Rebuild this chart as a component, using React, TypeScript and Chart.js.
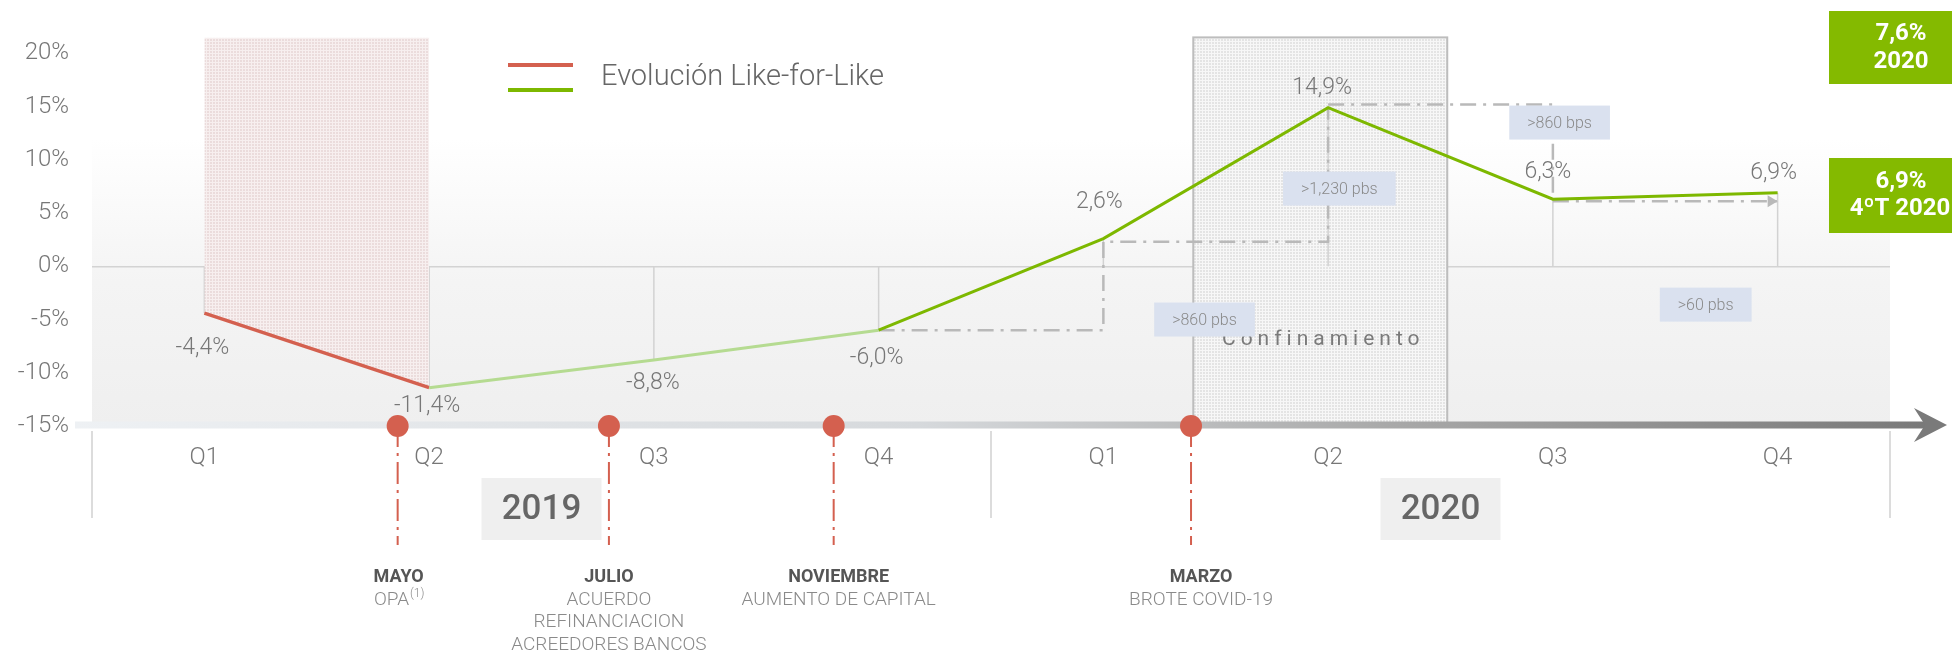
import React, { useEffect, useRef } from 'react';
import { Chart, registerables } from 'chart.js';
Chart.register(...registerables);

// ---------- data ----------
const quarters = ['Q1', 'Q2', 'Q3', 'Q4', 'Q1', 'Q2', 'Q3', 'Q4'];
const years = ['2019', '2020'];
const yearCenters = [1.5, 5.5];
const yearSeparators = [-0.5, 3.5, 7.5];
const lflValues = [-4.4, -11.4, -8.8, -6.0, 2.6, 14.9, 6.3, 6.9];
const redSeries = [-4.4, -11.4, null, null, null, null, null, null];
const greenSeries = [null, -11.4, -8.8, -6.0, 2.6, 14.9, 6.3, 6.9];
const valueLabels = ['-4,4%', '-11,4%', '-8,8%', '-6,0%', '2,6%', '14,9%', '6,3%', '6,9%'];
const yTicks = [-15, -10, -5, 0, 5, 10, 15, 20];

const eventPositions = [0.86, 1.8, 2.8, 4.39];
const eventTitles = ['MAYO', 'JULIO', 'NOVIEMBRE', 'MARZO'];
const eventDetails = [['OPA'], ['ACUERDO', 'REFINANCIACION', 'ACREEDORES BANCOS'], ['AUMENTO DE CAPITAL'], ['BROTE COVID-19']];
const eventSup = ['(1)', '', '', ''];

const confinementRange = [4.4, 5.53];
const confinementLabel = 'Confinamiento';

const changeLabels = ['>860 pbs', '>1,230 pbs', '>860 bps', '>60 pbs'];
const changeAnchors = [[4.45, -5.0], [5.05, 7.3], [6.03, 13.5], [6.68, -3.6]];
const bracketA = [[3, -6.0], [4, -6.0], [4, 2.3], [5, 2.3], [5, 14.9]];
const bracketB = [[5, 15.2], [6, 15.2], [6, 6.3]];
const bracketC = [[6, 6.1], [7, 6.1]];

const summaryTop = ['7,6%', '2020'];
const summaryBottom = ['6,9%', '4ºT 2020'];
const legendLabel = 'Evolución Like-for-Like';

// ---------- styles ----------
const FONT = 'Roboto, "Noto Sans", sans-serif';
const RED = '#d4604f';
const GREEN = '#7db800';
const PALE_GREEN = '#b5db91';
const BOX_GREEN = '#84ba00';
const labelOffsets = [[-2, 35], [-2, 19], [-1, 23], [-2, 28], [-4, -36], [-6, -19], [-5, -27], [-4, -20]];
const eventTextDx = [1, 0, 5, 10];

function makePattern(ctx: CanvasRenderingContext2D, bg: string, line: string) {
  const c = document.createElement('canvas');
  c.width = 3; c.height = 3;
  const g = c.getContext('2d')!;
  g.fillStyle = line; g.fillRect(0, 0, 3, 3);
  g.fillStyle = bg; g.fillRect(0, 0, 2, 2);
  return ctx.createPattern(c, 'repeat')!;
}

function font(size: number, weight: string | number = 300) {
  return `${weight} ${size}px ${FONT}`;
}

export default function App() {
  const ref = useRef<HTMLCanvasElement>(null);

  useEffect(() => {
    const canvas = ref.current!;
    const ctx0 = canvas.getContext('2d')!;
    const pinkPattern = makePattern(ctx0, '#ebdcdc', '#f7efef');
    const greyPattern = makePattern(ctx0, '#e4e4e4', '#f7f7f7');

    const poly = (chart: any, pts: number[][]) => {
      const { x, y } = chart.scales;
      const ctx = chart.ctx;
      ctx.beginPath();
      pts.forEach((p, i) => {
        const px = x.getPixelForValue(p[0]);
        const py = y.getPixelForValue(p[1]);
        if (i === 0) ctx.moveTo(px, py); else ctx.lineTo(px, py);
      });
      ctx.stroke();
    };

    const overlay = {
      id: 'overlay',
      beforeDraw(chart: any) {
        const { ctx, chartArea: ca, scales: { y } } = chart;
        ctx.save();
        ctx.fillStyle = '#ffffff';
        ctx.fillRect(0, 0, chart.width, chart.height);
        const top = y.getPixelForValue(12);
        const g = ctx.createLinearGradient(0, top, 0, ca.bottom);
        g.addColorStop(0, '#ffffff');
        g.addColorStop(0.5, '#f4f4f4');
        g.addColorStop(1, '#efefef');
        ctx.fillStyle = g;
        ctx.fillRect(ca.left, top, ca.right - ca.left, ca.bottom - top);
        ctx.restore();
      },
      beforeDatasetsDraw(chart: any) {
        const { ctx, chartArea: ca, scales: { x, y } } = chart;
        ctx.save();
        // confinement box
        const x0 = x.getPixelForValue(confinementRange[0]);
        const x1 = x.getPixelForValue(confinementRange[1]);
        ctx.fillStyle = greyPattern;
        ctx.fillRect(x0, ca.top, x1 - x0, ca.bottom - ca.top);
        ctx.strokeStyle = '#bdbdbd';
        ctx.lineWidth = 2;
        ctx.strokeRect(x0, ca.top, x1 - x0, ca.bottom - ca.top);
        ctx.fillStyle = '#7a7a7a';
        ctx.font = font(21, 400);
        (ctx as any).letterSpacing = '5px';
        ctx.textAlign = 'center';
        ctx.textBaseline = 'middle';
        ctx.fillText(confinementLabel, (x0 + x1) / 2 + 3, y.getPixelForValue(-6.9));
        (ctx as any).letterSpacing = '0px';

        // drop lines
        ctx.strokeStyle = '#d2d2d2';
        ctx.lineWidth = 1.5;
        lflValues.forEach((v, i) => {
          const px = x.getPixelForValue(i);
          ctx.beginPath();
          ctx.moveTo(px, y.getPixelForValue(0));
          ctx.lineTo(px, y.getPixelForValue(v));
          ctx.stroke();
        });

        // brackets
        ctx.strokeStyle = '#b9b9b9';
        ctx.lineWidth = 2.5;
        ctx.setLineDash([16, 7, 3, 7]);
        poly(chart, bracketA);
        poly(chart, bracketB);
        poly(chart, bracketC);
        ctx.setLineDash([]);
        const ex = x.getPixelForValue(bracketC[1][0]);
        const ey = y.getPixelForValue(bracketC[1][1]);
        ctx.fillStyle = '#b9b9b9';
        ctx.beginPath();
        ctx.moveTo(ex, ey);
        ctx.lineTo(ex - 10, ey - 6);
        ctx.lineTo(ex - 10, ey + 6);
        ctx.closePath();
        ctx.fill();
        ctx.restore();
      },
      afterDatasetsDraw(chart: any) {
        const { ctx, chartArea: ca, scales: { x, y } } = chart;
        ctx.save();
        ctx.textAlign = 'center';
        ctx.textBaseline = 'middle';

        // change boxes
        ctx.font = font(16, 300);
        changeLabels.forEach((t, i) => {
          const cx = x.getPixelForValue(changeAnchors[i][0]);
          const cy = y.getPixelForValue(changeAnchors[i][1]);
          const w = ctx.measureText(t).width + 36;
          ctx.fillStyle = '#dae1ef';
          ctx.fillRect(cx - w / 2, cy - 17, w, 34);
          ctx.fillStyle = '#8a8a8a';
          ctx.fillText(t, cx, cy + 1);
        });

        // value labels
        ctx.font = font(23, 300);
        ctx.fillStyle = '#777777';
        valueLabels.forEach((t, i) => {
          const px = x.getPixelForValue(i) + labelOffsets[i][0];
          const py = y.getPixelForValue(lflValues[i]) + labelOffsets[i][1];
          ctx.fillText(t, px, py);
        });

        // time axis arrow
        const ay = ca.bottom - 1;
        const ax0 = ca.left - 17;
        const tip = ca.right + 57;
        const g = ctx.createLinearGradient(ax0, 0, tip, 0);
        g.addColorStop(0, '#eef1f4');
        g.addColorStop(0.45, '#d6d9dc');
        g.addColorStop(0.7, '#a9a9a9');
        g.addColorStop(1, '#777777');
        ctx.fillStyle = g;
        ctx.fillRect(ax0, ay - 3.5, tip - 20 - ax0, 7);
        ctx.fillStyle = '#7a7a7a';
        ctx.beginPath();
        ctx.moveTo(tip, ay);
        ctx.lineTo(tip - 33, ay - 17);
        ctx.lineTo(tip - 22, ay);
        ctx.lineTo(tip - 33, ay + 17);
        ctx.closePath();
        ctx.fill();

        // separators below axis
        ctx.strokeStyle = '#d0d0d0';
        ctx.lineWidth = 1.5;
        yearSeparators.forEach((s) => {
          const px = x.getPixelForValue(s);
          ctx.beginPath();
          ctx.moveTo(px, ca.bottom + 5);
          ctx.lineTo(px, ca.bottom + 92);
          ctx.stroke();
        });

        // year boxes
        years.forEach((t, i) => {
          const cx = x.getPixelForValue(yearCenters[i]);
          ctx.fillStyle = '#efefef';
          ctx.fillRect(cx - 60, 478, 120, 62);
          ctx.fillStyle = '#666666';
          ctx.font = font(35, 500);
          ctx.fillText(t, cx, 510);
        });

        // events
        eventPositions.forEach((p, i) => {
          const px = x.getPixelForValue(p);
          ctx.strokeStyle = RED;
          ctx.lineWidth = 2;
          ctx.setLineDash([22, 6, 3, 6]);
          ctx.beginPath();
          ctx.moveTo(px, ay);
          ctx.lineTo(px, 545);
          ctx.stroke();
          ctx.setLineDash([]);
          ctx.fillStyle = RED;
          ctx.beginPath();
          ctx.arc(px, ay + 1, 11, 0, Math.PI * 2);
          ctx.fill();

          const tx = px + eventTextDx[i];
          ctx.fillStyle = '#555555';
          ctx.font = font(18, 700);
          ctx.fillText(eventTitles[i], tx, 577);
          ctx.fillStyle = '#8a8a8a';
          ctx.font = font(19, 300);
          eventDetails[i].forEach((line, k) => {
            const ly = 600 + k * 22.5;
            if (eventSup[i] && k === 0) {
              const w1 = ctx.measureText(line).width;
              ctx.font = font(12, 300);
              const w2 = ctx.measureText(eventSup[i]).width;
              const start = tx - (w1 + w2) / 2;
              ctx.textAlign = 'left';
              ctx.fillText(eventSup[i], start + w1 + 1, ly - 6);
              ctx.font = font(19, 300);
              ctx.fillText(line, start, ly);
              ctx.textAlign = 'center';
            } else {
              ctx.fillText(line, tx, ly);
            }
          });
        });

        // legend
        ctx.lineWidth = 4;
        ctx.strokeStyle = RED;
        ctx.beginPath(); ctx.moveTo(508, 65); ctx.lineTo(573, 65); ctx.stroke();
        ctx.strokeStyle = GREEN;
        ctx.beginPath(); ctx.moveTo(508, 90); ctx.lineTo(573, 90); ctx.stroke();
        ctx.textAlign = 'left';
        ctx.fillStyle = '#666666';
        ctx.font = font(29, 300);
        ctx.fillText(legendLabel, 601, 78);

        // summary boxes
        ctx.textAlign = 'center';
        const bx = 1829;
        const bw = chart.width - bx;
        ctx.fillStyle = BOX_GREEN;
        ctx.fillRect(bx, 11, bw, 73);
        ctx.fillRect(bx, 158, bw, 75);
        ctx.fillStyle = '#ffffff';
        ctx.font = font(24, 700);
        ctx.fillText(summaryTop[0], bx + 72, 34);
        ctx.fillText(summaryTop[1], bx + 72, 62);
        ctx.fillText(summaryBottom[0], bx + 72, 182);
        ctx.fillText(summaryBottom[1], bx + 71, 209);
        ctx.restore();
      },
    };

    const chart = new Chart(canvas, {
      type: 'line',
      data: {
        labels: quarters,
        datasets: [
          {
            label: legendLabel,
            data: greenSeries,
            borderColor: GREEN,
            borderWidth: 3,
            pointRadius: 0,
            fill: false,
            order: 1,
            segment: {
              borderColor: (c: any) => (c.p1DataIndex <= 3 ? PALE_GREEN : GREEN),
            },
          } as any,
          {
            label: legendLabel,
            data: redSeries,
            borderColor: RED,
            borderWidth: 3.5,
            pointRadius: 0,
            fill: 'end',
            backgroundColor: pinkPattern,
            order: 2,
          } as any,
        ],
      },
      options: {
        responsive: false,
        animation: false,
        layout: { padding: { top: 37, right: 62, left: 0, bottom: 0 } },
        plugins: { legend: { display: false }, tooltip: { enabled: false } },
        scales: {
          x: {
            type: 'category',
            offset: true,
            grid: { display: false, drawTicks: false },
            border: { display: false },
            ticks: {
              color: '#777777',
              font: { family: FONT, size: 24, weight: '300' as any },
              padding: 18,
              autoSkip: false,
              maxRotation: 0,
            },
            afterFit: (a: any) => { a.height = 225; },
          },
          y: {
            min: -15,
            max: 21.5,
            afterBuildTicks: (a: any) => { a.ticks = yTicks.map((v) => ({ value: v })); },
            grid: {
              drawTicks: false,
              color: (c: any) => (c.tick && c.tick.value === 0 ? '#d3d3d3' : 'rgba(0,0,0,0)'),
              lineWidth: 1.5,
            },
            border: { display: false },
            ticks: {
              color: '#777777',
              font: { family: FONT, size: 24, weight: '300' as any },
              padding: 23,
              callback: (v: any) => `${v}%`,
            },
            afterFit: (a: any) => { a.width = 92; },
          },
        },
      } as any,
      plugins: [overlay],
    });
    return () => chart.destroy();
  }, []);

  return (
    <div style={{ position: 'absolute', left: 0, top: 0, width: 1952, height: 651 }}>
      <canvas ref={ref} width={1952} height={651} style={{ display: 'block' }} />
    </div>
  );
}
